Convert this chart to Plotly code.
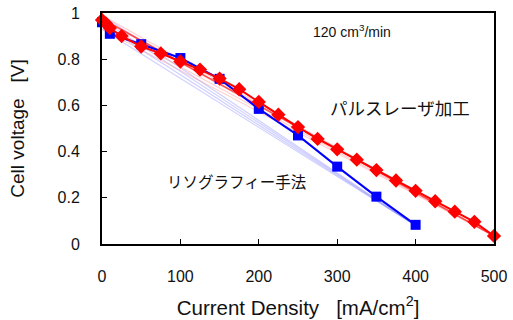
import plotly.graph_objects as go

# Lithography (blue)
litho_x = [0, 10, 50, 100, 150, 200, 250, 300, 350, 400]
litho_y = [0.96, 0.91, 0.865, 0.805, 0.715, 0.585, 0.47, 0.335, 0.205, 0.083]

# Pulse laser processing (red)
laser_x = [0, 5, 10, 25, 50, 75, 100, 125, 150, 175, 200, 225, 250, 275, 300, 325,
           350, 375, 400, 425, 450, 475, 500]
laser_y = [0.97, 0.955, 0.935, 0.90, 0.855, 0.825, 0.79, 0.755, 0.716, 0.67, 0.615,
           0.56, 0.506, 0.455, 0.41, 0.365, 0.32, 0.275, 0.23, 0.185, 0.14, 0.096, 0.035]

# faint reference lines (start/end values)
faint_blue_x = [0, 400]
faint_blue_starts = [0.99, 0.97, 0.95, 0.93]
faint_blue_end = 0.08
faint_red_x = [0, 500]
faint_red_starts = [0.99, 0.97, 0.95, 0.93]
faint_red_end = 0.035
red_line_x = [0, 500]
red_line_y = [0.975, 0.035]

x_ticks = [0, 100, 200, 300, 400, 500]
y_ticks = [0, 0.2, 0.4, 0.6, 0.8, 1.0]
y_tick_text = ["0", "0.2", "0.4", "0.6", "0.8", "1"]

NB = "\u00a0"

fig = go.Figure()
for s in faint_blue_starts:
    fig.add_trace(go.Scatter(x=faint_blue_x, y=[s, faint_blue_end], mode="lines",
                             line=dict(color="rgba(120,120,255,0.35)", width=1.2),
                             hoverinfo="skip", showlegend=False))
for s in faint_red_starts:
    fig.add_trace(go.Scatter(x=faint_red_x, y=[s, faint_red_end], mode="lines",
                             line=dict(color="rgba(255,120,120,0.35)", width=1.2),
                             hoverinfo="skip", showlegend=False))
fig.add_trace(go.Scatter(x=red_line_x, y=red_line_y, mode="lines",
                         line=dict(color="rgba(255,40,40,0.8)", width=1.5),
                         hoverinfo="skip", showlegend=False))
fig.add_trace(go.Scatter(x=litho_x, y=litho_y, mode="lines+markers",
                         line=dict(color="#0000ff", width=2),
                         marker=dict(symbol="square", size=10, color="#0000ff"),
                         cliponaxis=False, showlegend=False))
fig.add_trace(go.Scatter(x=laser_x, y=laser_y, mode="lines+markers",
                         line=dict(color="#ff0000", width=2),
                         marker=dict(symbol="diamond", size=11, color="#ff0000"),
                         cliponaxis=False, showlegend=False))

font_family = "Arial, 'Liberation Sans', sans-serif"
fig.update_layout(
    width=513, height=320,
    margin=dict(l=102, r=19, t=13, b=76, autoexpand=False),
    paper_bgcolor="white", plot_bgcolor="white",
    font=dict(family=font_family, color="#111", size=16),
    xaxis=dict(range=[0, 500], tickvals=x_ticks, ticks="inside", ticklen=5,
               tickcolor="black", showline=True, linecolor="black", linewidth=2,
               mirror=True, showgrid=False, zeroline=False, ticklabelstandoff=17,
               automargin=False,
               title=dict(text="Current Density" + NB * 3 + "[mA/cm<sup>2</sup>]",
                          font=dict(size=20.5), standoff=16)),
    yaxis=dict(range=[0, 1], tickvals=y_ticks, ticktext=y_tick_text, ticks="inside",
               ticklen=5, tickcolor="black", showline=True, linecolor="black",
               linewidth=2, mirror=True, showgrid=False, zeroline=False,
               ticklabelstandoff=17, automargin=False,
               title=dict(text="Cell voltage" + NB * 3 + "[V]", font=dict(size=19),
                          standoff=28)),
)
W, H = 513 - 102 - 19, 320 - 13 - 76
def px(xp, yp):
    return (xp - 102) / W, (320 - 76 - yp) / H
ax1 = px(311, 20)
ax2 = px(328, 108)
ax3 = px(165, 194)
fig.add_annotation(x=ax1[0], y=ax1[1], xref="paper", yref="paper", xanchor="left",
                   text="120 cm<sup>3</sup>/min", showarrow=False,
                   font=dict(size=14, color="#111"))
fig.add_annotation(x=ax2[0], y=ax2[1], xref="paper", yref="paper", xanchor="left",
                   text="パルスレーザ加工", showarrow=False,
                   font=dict(size=17.5, color="#111", family="Noto Sans CJK JP"))
fig.add_annotation(x=ax3[0], y=ax3[1], xref="paper", yref="paper", xanchor="left",
                   text="リソグラフィー手法", showarrow=False,
                   font=dict(size=15.5, color="#111", family="Noto Sans CJK JP"))

fig.write_html("out.html")
